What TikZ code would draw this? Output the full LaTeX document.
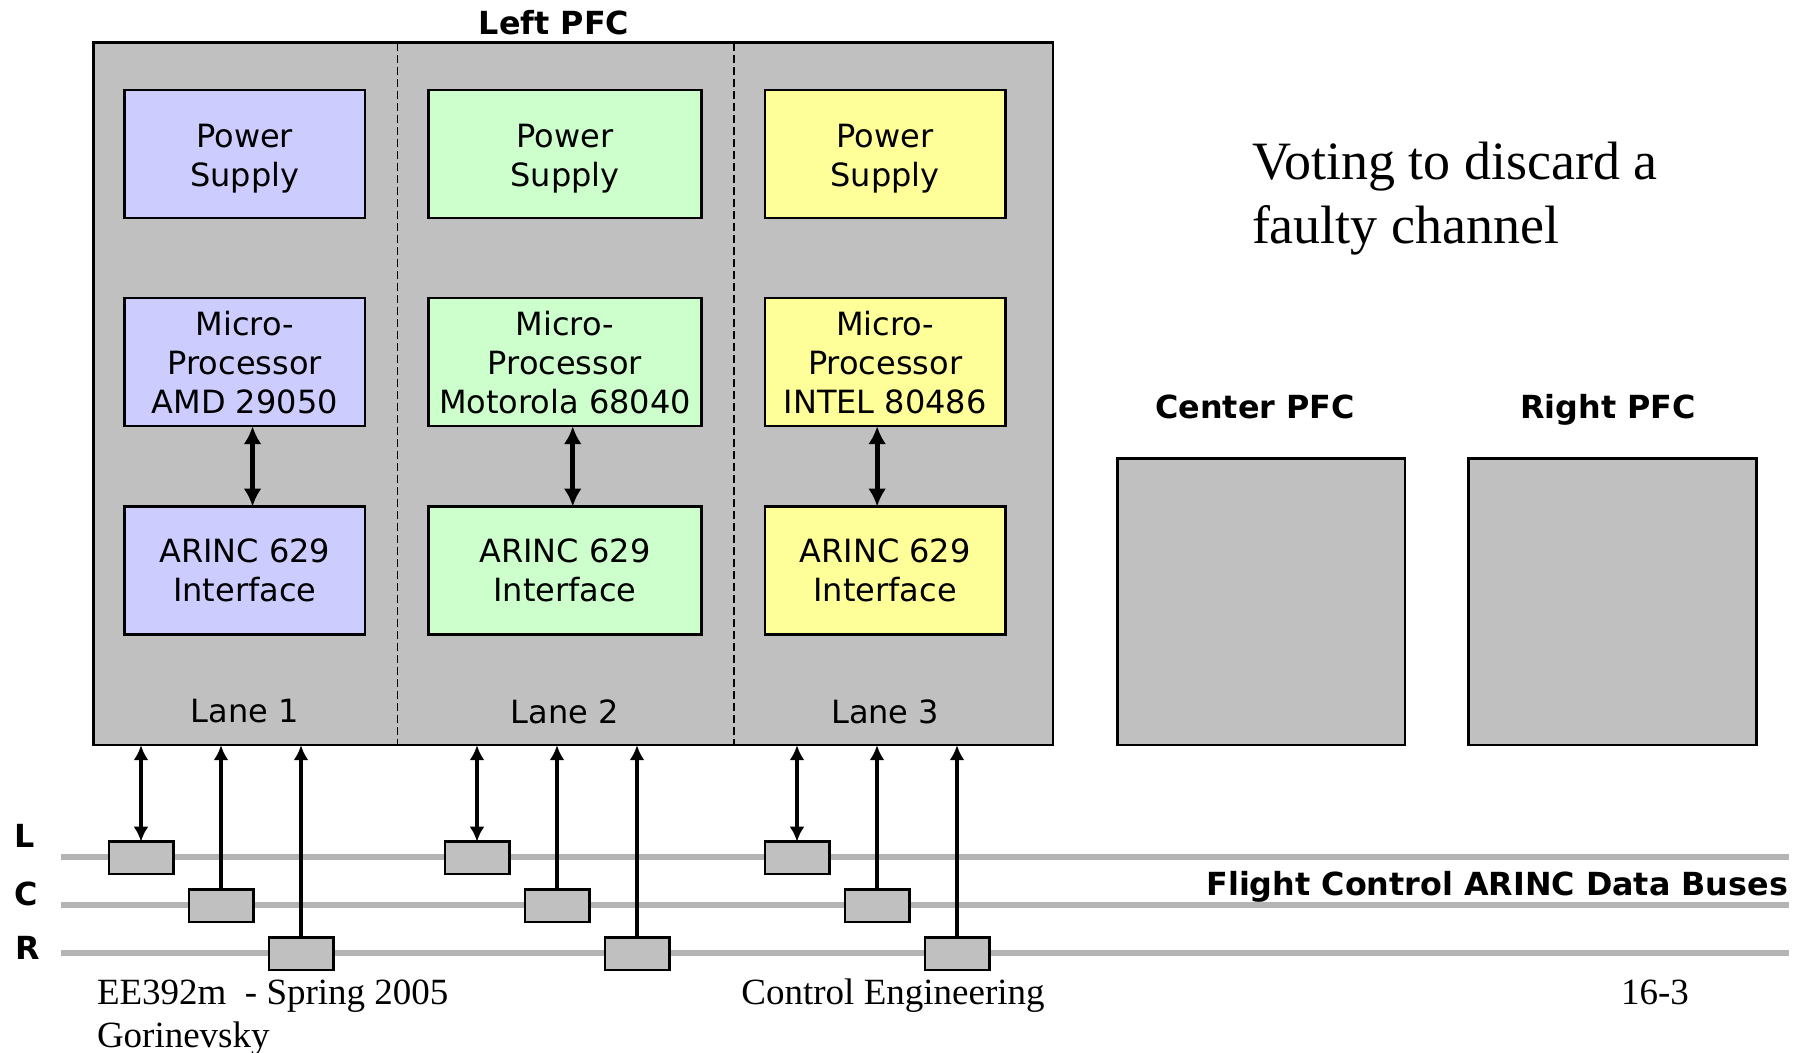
\documentclass[tikz,border=0pt]{standalone}
\usepackage{fontspec}
\setmainfont{Liberation Serif}
\newfontfamily\vsans{DejaVu Sans}
\usetikzlibrary{arrows.meta}
\definecolor{colA}{RGB}{204,204,255}
\definecolor{colB}{RGB}{204,255,204}
\definecolor{colC}{RGB}{255,255,153}
\definecolor{pfcgray}{RGB}{192,192,192}
\definecolor{busgray}{RGB}{180,180,180}
\begin{document}
\begin{tikzpicture}[x=0.5pt,y=-0.5pt,
  every node/.style={inner sep=0pt, outer sep=0pt},
  sanstxt/.style={font=\vsans\fontsize{16}{19.5}\selectfont},
  boldtxt/.style={font=\vsans\bfseries\fontsize{15.9}{19.5}\selectfont},
  unitbox/.style={draw=black, line width=1.1pt, align=center, sanstxt, minimum height=63.95pt},
  narrowbox/.style={unitbox, minimum width=120.35pt},
  widebox/.style={unitbox, minimum width=136.45pt},
  boxA/.style={narrowbox, fill=colA},
  boxB/.style={widebox, fill=colB},
  boxC/.style={narrowbox, fill=colC},
  pstext/.style={label={[sanstxt, align=center, yshift=-2.4pt]center:Power\\Supply}},
  pfcbox/.style={draw=black, fill=pfcgray, line width=1.2pt},
  coupler/.style={draw=black, fill=pfcgray, line width=1.2pt, minimum width=32.3pt, minimum height=16.2pt},
  bus/.style={draw=busgray, line width=3pt},
  divider/.style={draw=black, line width=0.85pt, dash pattern=on 4pt off 2pt},
  link/.style={line width=1.9pt, -{Latex[length=7.5pt,width=7.5pt]}},
  dlink/.style={line width=1.9pt, {Latex[length=7.5pt,width=7.5pt]}-{Latex[length=7.5pt,width=7.5pt]}},
  innerlink/.style={line width=2.4pt, {Latex[length=9pt,width=9pt]}-{Latex[length=9pt,width=9pt]}},
  serifbig/.style={font=\fontsize{27}{31.7}\selectfont},
  footer/.style={font=\fontsize{18.5}{21}\selectfont},
]
\useasboundingbox (0,0) rectangle (1806,1053);

% Left PFC
\node[boldtxt] (lpfclabel) at (554,23) {Left PFC};
\node[pfcbox, minimum width=479.7pt, minimum height=351.3pt] (pfcL) at (573,393.9) {};
\draw[divider] (397.4,42.6) -- (397.4,745.2);
\draw[divider] (733.7,42.6) -- (733.7,745.2);

% lane boxes
\node[boxA, pstext] (ps1) at (244.75,153.75) {};
\node[boxB, pstext] (ps2) at (564.95,153.75) {};
\node[boxC, pstext] (ps3) at (885.15,153.75) {};
\node[boxA] (mp1) at (244.75,362.25) {Micro-\\Processor\\AMD 29050};
\node[boxB] (mp2) at (564.95,362.25) {Micro-\\Processor\\Motorola 68040};
\node[boxC] (mp3) at (885.15,362.25) {Micro-\\Processor\\INTEL 80486};
\node[boxA] (ar1) at (244.75,570.5) {ARINC 629\\Interface};
\node[boxB] (ar2) at (564.95,570.5) {ARINC 629\\Interface};
\node[boxC] (ar3) at (885.15,570.5) {ARINC 629\\Interface};

\draw[innerlink] ([xshift=3.9pt]mp1.south) -- ([xshift=3.9pt]ar1.north);
\draw[innerlink] ([xshift=3.9pt]mp2.south) -- ([xshift=3.9pt]ar2.north);
\draw[innerlink] ([xshift=-4pt]mp3.south) -- ([xshift=-4pt]ar3.north);

\node[sanstxt] (lane1) at (244.75,711.5) {Lane 1};
\node[sanstxt] (lane2) at (564.95,711.5) {Lane 2};
\node[sanstxt] (lane3) at (885.15,711.5) {Lane 3};

% Voting text
\node[serifbig, anchor=west, align=left] (voting) at (1252,198.5) {Voting to discard a\\faulty channel};

% Center and Right PFC
\node[boldtxt, anchor=base] (cpfclabel) at (1255,418.3) {Center PFC};
\node[boldtxt, anchor=base] (rpfclabel) at (1608,418.3) {Right PFC};
\node[pfcbox, minimum width=143.95pt, minimum height=143.4pt] (pfcC) at (1261.25,601.8) {};
\node[pfcbox, minimum width=143.95pt, minimum height=143.4pt] (pfcR) at (1612.5,601.8) {};

% Buses
\draw[bus] (61,857) -- (1789,857);
\draw[bus] (61,905.3) -- (1789,905.3);
\draw[bus] (61,952.5) -- (1789,952.5);
\node[boldtxt, anchor=west] (busL) at (15,836) {L};
\node[boldtxt, anchor=west] (busC) at (15,893.5) {C};
\node[boldtxt, anchor=west] (busR) at (16,948) {R};
\node[boldtxt, anchor=east] (buslabel) at (1788,886.5) {Flight Control ARINC Data Buses};

% Couplers
\node[coupler] (cL1) at (141,857.85) {};
\node[coupler] (cL2) at (477,857.85) {};
\node[coupler] (cL3) at (797,857.85) {};
\node[coupler] (cC1) at (221,905.8) {};
\node[coupler] (cC2) at (557,905.8) {};
\node[coupler] (cC3) at (877,905.8) {};
\node[coupler] (cR1) at (301,953.65) {};
\node[coupler] (cR2) at (637,953.65) {};
\node[coupler] (cR3) at (957,953.65) {};

\foreach \n in {1,2,3}{
  \draw[dlink] (pfcL.south -| cL\n.north) -- (cL\n.north);
  \draw[link] (cC\n.north) -- (pfcL.south -| cC\n.north);
  \draw[link] (cR\n.north) -- (pfcL.south -| cR\n.north);
}

% Footer
\node[footer, anchor=base west] (foot1) at (97,1004.5) {EE392m\ \ - Spring 2005};
\node[footer, anchor=base west] (foot2) at (97,1047) {Gorinevsky};
\node[footer, anchor=base] (foot3) at (893,1004.5) {Control Engineering};
\node[footer, anchor=base] (foot4) at (1655,1004.5) {16-3};
\end{tikzpicture}
\end{document}
